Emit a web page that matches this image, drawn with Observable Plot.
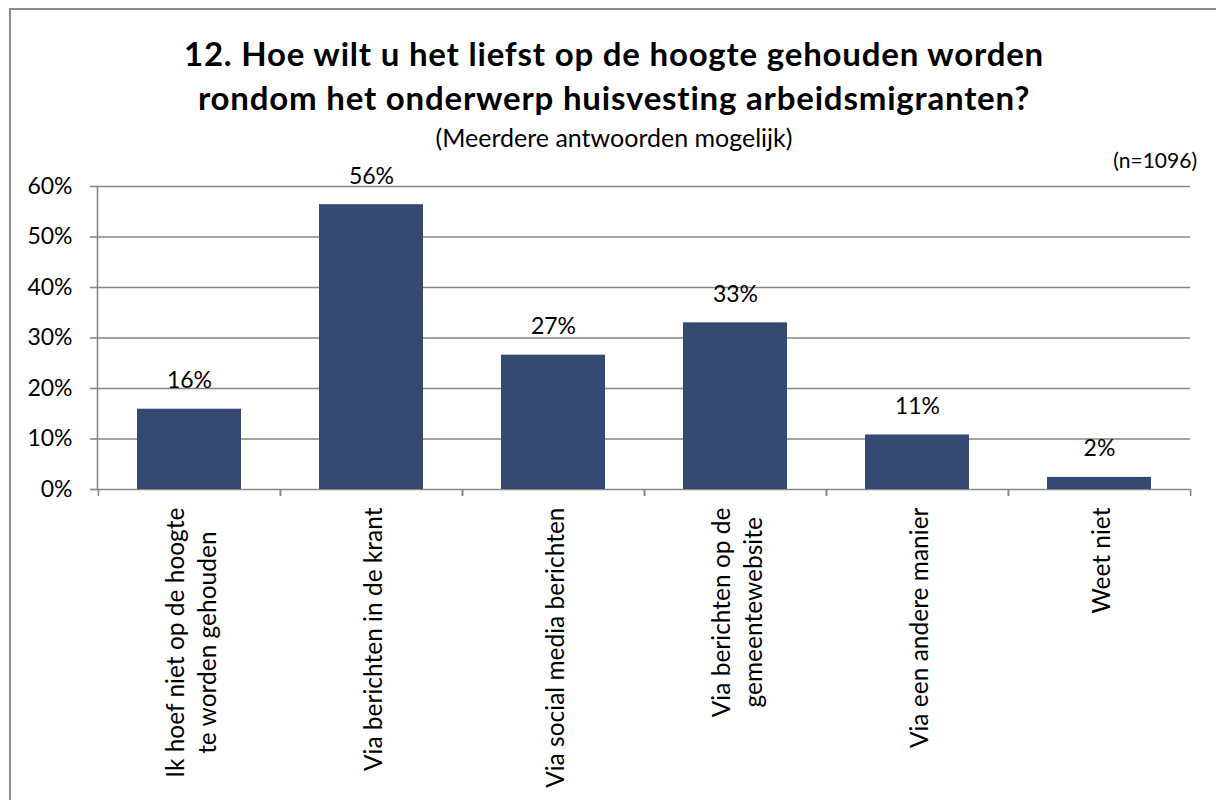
<!DOCTYPE html>
<html>
<head>
<meta charset="utf-8">
<script src="https://cdn.jsdelivr.net/npm/d3@7"></script>
<script src="https://cdn.jsdelivr.net/npm/@observablehq/plot@0.6"></script>
<style>
  html, body { margin: 0; padding: 0; background: #fff; }
  body { width: 1216px; height: 800px; position: relative; overflow: hidden; font-family: Lato, "Open Sans", sans-serif; color: #000; }
  #frame { position: absolute; left: 9px; top: 8px; width: 1220px; height: 800px; border-top: 2px solid #8c8c8c; border-left: 2px solid #8c8c8c; }
  #title { position: absolute; left: 0; width: 1228px; top: 31px; text-align: center; font-weight: 700; font-size: 33px; letter-spacing: 0.8px; line-height: 44px; }
  #subtitle { position: absolute; left: 0; width: 1228px; top: 124px; text-align: center; font-size: 25px; line-height: 26px; }
  #n { position: absolute; right: 19px; top: 148px; font-size: 21px; line-height: 24px; }
  #chart { position: absolute; left: 0; top: 150px; }
</style>
</head>
<body>
<div id="frame"></div>
<div id="title">12. Hoe wilt u het liefst op de hoogte gehouden worden<br>rondom het onderwerp huisvesting arbeidsmigranten?</div>
<div id="subtitle">(Meerdere antwoorden mogelijk)</div>
<div id="n">(n=1096)</div>
<div id="chart"></div>
<script>
const categories = [
  "Ik hoef niet op de hoogte\nte worden gehouden",
  "Via berichten in de krant",
  "Via social media berichten",
  "Via berichten op de\ngemeentewebsite",
  "Via een andere manier",
  "Weet niet"
];
const values = [15.9, 56.4, 26.6, 33.0, 10.8, 2.4];
const yTicks = [0, 10, 20, 30, 40, 50, 60];

const data = categories.map((c, i) => ({cat: c, value: values[i]}));

const W = 1216, H = 650, ML = 97, MR = 26, MT = 36, MB = 311;
const half = (W - ML - MR) / categories.length / 2;
const grey = "#868686";
const barColor = "#344a72";

const plot = Plot.plot({
  width: W,
  height: H,
  marginLeft: ML,
  marginRight: MR,
  marginTop: MT,
  marginBottom: MB,
  style: {fontFamily: "Lato, 'Open Sans', sans-serif", color: "#000", background: "transparent"},
  x: {domain: categories, paddingInner: 0.43, paddingOuter: 0.215, label: null},
  y: {domain: [0, 60], label: null},
  marks: [
    Plot.gridY(yTicks, {stroke: grey, strokeOpacity: 1, strokeWidth: 1.6}),
    Plot.frame({anchor: "left", stroke: grey, strokeWidth: 1.6}),
    Plot.axisY(yTicks, {tickSize: 7, tickPadding: 18, fontSize: 23, stroke: grey, strokeWidth: 1.6, fill: "#000", tickFormat: d => d + "%", label: null}),
    Plot.axisX({tickSize: 7, dx: -half, stroke: grey, strokeWidth: 1.6, tickFormat: () => "", label: null}),
    Plot.axisX({tickSize: 7, dx: half, stroke: grey, strokeWidth: 1.6, tickFormat: () => "", label: null}),
    Plot.axisX({tickSize: 0, tickPadding: 18, tickRotate: -90, textAnchor: "end", lineAnchor: "middle", lineHeight: 1.3, fontSize: 24.5, fill: "#000", label: null, ariaLabel: "x-labels"}),
    Plot.barY(data, {x: "cat", y: "value", fill: barColor}),
    Plot.text(data, {x: "cat", y: "value", text: d => Math.round(d.value) + "%", dy: -21, lineAnchor: "bottom", fontSize: 23, fill: "#000"})
  ]
});

document.getElementById("chart").appendChild(plot);

// center multi-line category labels relative to each other (block anchored at its top)
plot.querySelectorAll("text").forEach(t => {
  const spans = t.querySelectorAll("tspan");
  if (spans.length > 1) {
    let maxLen = 0;
    spans.forEach(s => { maxLen = Math.max(maxLen, s.getComputedTextLength()); });
    t.setAttribute("text-anchor", "middle");
    spans.forEach(s => s.setAttribute("x", -maxLen / 2));
  }
});
</script>
</body>
</html>
